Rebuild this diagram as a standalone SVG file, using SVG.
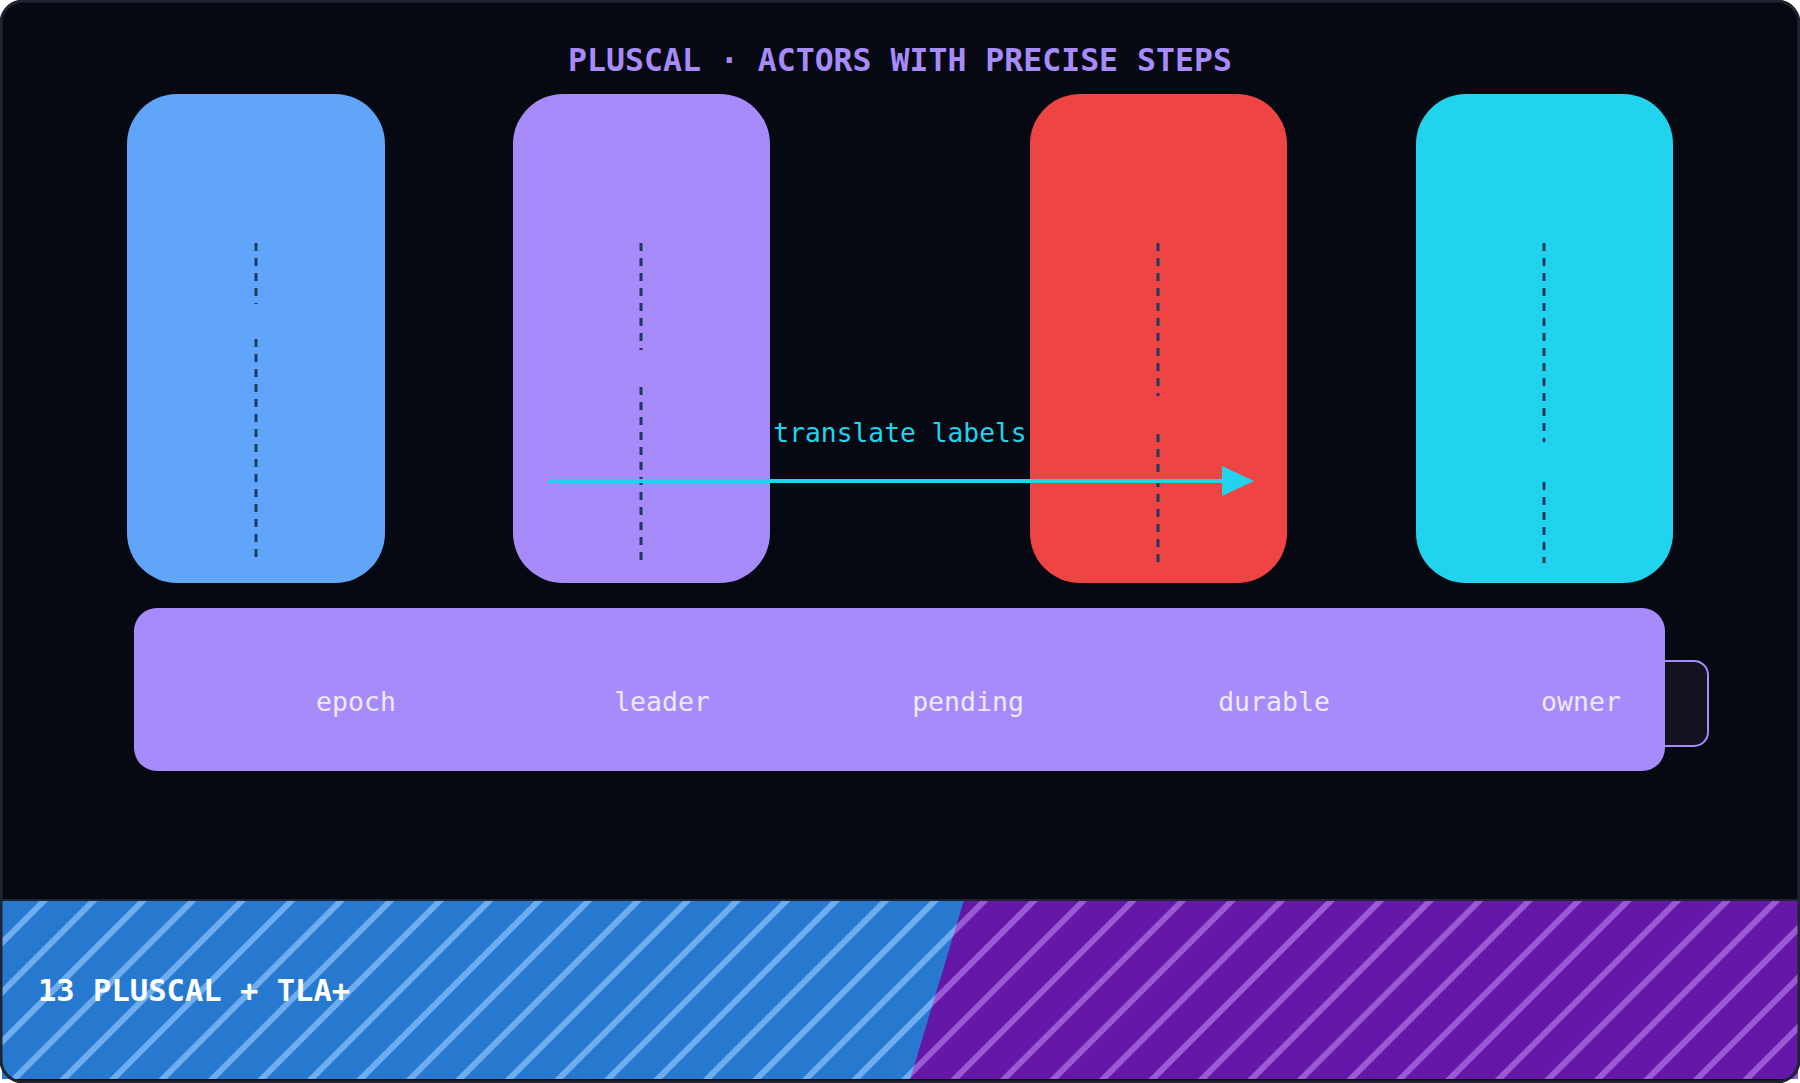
<svg xmlns="http://www.w3.org/2000/svg" width="1800" height="1083" viewBox="0 0 1800 1083">
<style>
.mono{font-family:"DejaVu Sans Mono","Liberation Mono",monospace}
.actor{stroke:none}
.life{stroke:#1e3a5f;stroke-width:3;stroke-dasharray:8 7;fill:none}
.lbl{fill:#ede9fe;font-size:26.5px;text-anchor:middle;dominant-baseline:central}
</style>
<defs>
<pattern id="sb" width="35" height="35" patternUnits="userSpaceOnUse" patternTransform="rotate(45)">
<rect width="35" height="35" fill="#2779d0"/><rect width="6" height="35" fill="#6eaef0"/>
</pattern>
<pattern id="sp" width="35" height="35" patternUnits="userSpaceOnUse" patternTransform="rotate(45)">
<rect width="35" height="35" fill="#6518a8"/><rect width="6" height="35" fill="#9a5ad4"/>
</pattern>
<clipPath id="fc"><rect x="2" y="901" width="1796" height="178"/></clipPath>
</defs>
<rect x="1" y="1" width="1798" height="1081" rx="22" fill="#060912" stroke="#1f2430" stroke-width="2"/>
<text x="900" y="60" class="mono" font-size="31.5" font-weight="bold" fill="#a78bfa" text-anchor="middle" dominant-baseline="central">PLUSCAL · ACTORS WITH PRECISE STEPS</text>
<g id="actor-blue"><rect class="actor" x="127" y="94" width="258" height="489" rx="50" fill="#60a5fa"/>
<path class="life" d="M256,243 V304 M256,339 V563"/></g>
<g id="actor-purple"><rect class="actor" x="513" y="94" width="257" height="489" rx="50" fill="#a78bfa"/>
<path class="life" d="M641,243 V350 M641,387 V563"/></g>
<g id="actor-red"><rect class="actor" x="1030" y="94" width="257" height="489" rx="50" fill="#ef4444"/>
<path class="life" d="M1158,243 V396 M1158,434 V563"/></g>
<g id="actor-cyan"><rect class="actor" x="1416" y="94" width="257" height="489" rx="50" fill="#22d3ee"/>
<path class="life" d="M1544,243 V442 M1544,482 V563"/></g>
<g id="connectors">
<line x1="548" y1="481" x2="1230" y2="481" stroke="#22d3ee" stroke-width="4"/>
<path d="M1222,466 L1254,481 L1222,496 z" fill="#22d3ee"/>
<text x="900" y="433" class="mono" font-size="26.3" fill="#22d3ee" text-anchor="middle" dominant-baseline="central">translate labels</text>
</g>
<g id="state">
<rect x="1640" y="661" width="68" height="85" rx="14" fill="#11111f" stroke="#a78bfa" stroke-width="2"/>
<rect x="134" y="608" width="1531" height="163" rx="23" fill="#a78bfa"/>
<text class="mono lbl" x="356" y="701">epoch</text>
<text class="mono lbl" x="662" y="701">leader</text>
<text class="mono lbl" x="968" y="701">pending</text>
<text class="mono lbl" x="1274" y="701">durable</text>
<text class="mono lbl" x="1581" y="701">owner</text>
</g>
<g id="footer" clip-path="url(#fc)">
<rect x="0" y="900" width="1800" height="183" fill="url(#sp)"/>
<polygon points="0,900 964,900 909,1083 0,1083" fill="url(#sb)"/>
</g>
<line x1="2" y1="900" x2="1798" y2="900" stroke="#1f2430" stroke-width="2"/>
<rect x="1" y="1" width="1798" height="1081" rx="22" fill="none" stroke="#1f2430" stroke-width="3"/>
<text x="38" y="990" class="mono" font-size="30.5" font-weight="bold" fill="#ffffff" dominant-baseline="central">13 PLUSCAL + TLA+</text>
</svg>
